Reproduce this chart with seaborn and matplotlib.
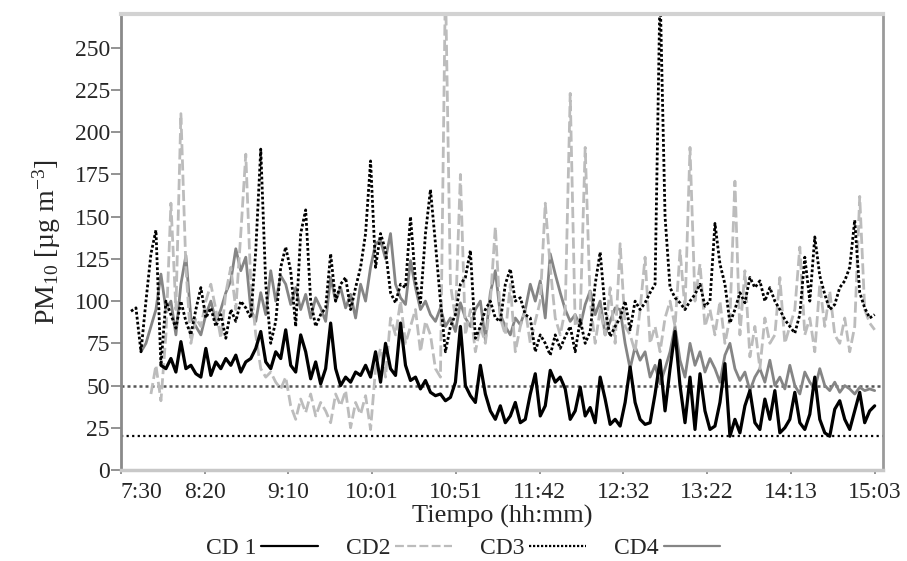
"""
PM10 por sitio (CD 1 - CD4) a lo largo de la jornada, 7:30 a 15:03.
Lineas de referencia en 50 y 20 ug/m3.
"""
import numpy as np
import pandas as pd
import seaborn as sns
import matplotlib.pyplot as plt
from matplotlib.lines import Line2D

sns.set_theme(style="white")
plt.rcParams["font.family"] = ["Liberation Serif", "DejaVu Serif"]
plt.rcParams["mathtext.fontset"] = "custom"
plt.rcParams["mathtext.rm"] = "Liberation Serif"
plt.rcParams["mathtext.it"] = "Liberation Serif:italic"


################################ datos (paso de 3 min)

STEP_MIN = 3

# minutos desde medianoche del primer punto de cada serie
start_cd1 = 7 * 60 + 54
start_cd2 = 7 * 60 + 48
start_cd3 = 7 * 60 + 36
start_cd4 = 7 * 60 + 42

cd1 = [
    62, 60, 66, 58,
    76, 60, 62, 57, 55, 72, 56, 64, 60, 66,
    62, 68, 58, 64, 66, 72, 82, 64, 60, 70,
    66, 83, 62, 58, 80, 70, 54, 64, 51, 60,
    87, 60, 50, 55, 52, 58, 56, 62, 55, 70,
    52, 75, 60, 56, 87, 62, 53, 55, 48, 53,
    46, 44, 45, 41, 43, 52, 85, 50, 44, 40,
    62, 45, 35, 30, 38, 28, 32, 40, 28, 30,
    45, 57, 32, 38, 59, 52, 55, 48, 30, 35,
    49, 32, 37, 28, 55, 42, 27, 30, 26, 40,
    61, 40, 30, 27, 28, 45, 65, 35, 60, 82,
    50, 28, 55, 24, 57, 35, 24, 26, 40, 63,
    20, 30, 22, 38, 47, 28, 24, 42, 30, 47,
    22, 25, 30, 46, 28, 24, 33, 55, 30, 22,
    20, 36, 41, 30, 24, 35, 46, 28, 35, 38,
]

cd2 = [
    45, 62, 41, 80, 158, 95,
    211, 120, 75, 90, 85, 100, 110, 95, 78, 105,
    120, 95, 140, 187, 110, 80, 60, 55, 58, 52,
    48, 55, 38, 30, 42, 34, 45, 32, 40, 35,
    28, 45, 38, 47, 25, 40, 33, 44, 24, 60,
    72, 55, 90, 80, 100, 75, 85, 95, 70, 88,
    80, 60, 55, 290, 110, 90, 175, 80, 95, 70,
    85, 75, 100, 144, 90, 80, 110, 70, 85, 95,
    75, 88, 100, 158, 120, 90, 80, 95, 223, 85,
    90, 191, 100, 75, 95, 80, 108, 75, 134, 85,
    80, 70, 95, 126, 75, 85, 70, 90, 100, 85,
    130, 95, 191, 100, 122, 85, 95, 80, 100, 75,
    90, 171, 80, 118, 67, 85, 60, 90, 75, 80,
    114, 75, 85, 95, 132, 80, 90, 70, 110, 85,
    106, 80, 75, 90, 70, 85, 162, 95, 87, 83,
]

cd3 = [
    94, 96, 70, 100, 128, 142, 62, 100, 92, 84,
    100, 88, 80, 95, 108, 90, 96, 85, 92, 78,
    95, 88, 100, 96, 90, 130, 190, 110, 75, 88,
    120, 132, 118, 85, 140, 154, 100, 85, 92, 96,
    128, 100, 110, 114, 95, 108, 120, 140, 183, 120,
    140, 130, 105, 99, 110, 108, 150, 112, 99, 140,
    166, 134, 100, 70, 85, 92, 110, 114, 130, 78,
    85, 95, 100, 90, 88, 110, 119, 100, 102, 92,
    90, 70, 80, 75, 68, 80, 72, 79, 85, 70,
    89, 75, 82, 110, 129, 95, 79, 85, 90, 100,
    83, 100, 95, 99, 105, 110, 285, 150, 108, 102,
    99, 95, 100, 104, 110, 97, 100, 146, 122, 110,
    87, 95, 105, 99, 114, 108, 112, 100, 108, 100,
    95, 89, 85, 81, 92, 126, 100, 138, 115, 104,
    95, 98, 108, 112, 120, 148, 105, 96, 90, 92,
]

cd4 = [
    70, 75, 85, 95, 116, 95, 100, 80,
    110, 127, 90, 85, 80, 92, 100, 88, 95, 105,
    112, 131, 118, 126, 95, 88, 105, 92, 118, 100,
    115, 110, 98, 108, 95, 104, 90, 102, 96, 88,
    114, 100, 108, 96, 104, 90, 110, 100, 120, 134,
    136, 125, 140, 110, 102, 98, 124, 108, 95, 100,
    92, 88, 96, 85, 90, 82, 99, 90, 85, 95,
    100, 77, 105, 118, 92, 85, 80, 90, 86, 95,
    110, 100, 112, 90, 128, 116, 105, 95, 88, 92,
    85, 98, 106, 92, 100, 80, 88, 96, 95, 75,
    60, 73, 65, 70, 55, 62, 51, 60, 70, 85,
    65, 55, 75, 62, 70, 58, 66, 60, 52, 68,
    75, 60, 53, 58, 47, 55, 60, 52, 65, 50,
    55, 48, 62, 50, 45, 58, 52, 48, 60, 50,
    47, 52, 46, 50, 48, 45, 49, 47, 48, 47,
]

TICK_LABELS = ["7:30", "8:20", "9:10", "10:01", "10:51",
               "11:42", "12:32", "13:22", "14:13", "15:03"]
REF_LINES = [50, 20]

SITES = ["CD 1", "CD2", "CD3", "CD4"]
DRAW_ORDER = ["CD4", "CD2", "CD3", "CD 1"]  # CD 1 queda encima

frames = []
for site, start, vals in zip(SITES,
                             [start_cd1, start_cd2, start_cd3, start_cd4],
                             [cd1, cd2, cd3, cd4]):
    frames.append(pd.DataFrame({
        "minuto": start + STEP_MIN * np.arange(len(vals)),
        "pm10": vals,
        "sitio": site,
    }))
df = pd.concat(frames, ignore_index=True)


################################ estilo

COLORS = {"CD 1": "black", "CD2": "#bcbcbc", "CD3": "black", "CD4": "#858585"}
DASHES = {"CD 1": "", "CD2": (4, 1.5), "CD3": (1, 0.8), "CD4": ""}
WIDTHS = {"CD 1": 2.3, "CD2": 2.0, "CD3": 2.0, "CD4": 2.0}

XMIN = 7 * 60 + 30
XTICKS = np.linspace(XMIN, 15 * 60 + 3, len(TICK_LABELS))
XMAX = XMIN + 458
YMAX = 270

TICK_FS = 17


################################ grafico

fig = plt.figure(figsize=(9.07, 5.61), dpi=100)
ax = fig.add_axes([121 / 907, 1 - 470 / 561, 762 / 907, 456 / 561])

# una llamada por sitio para poder dar un grosor distinto a cada linea
for site in DRAW_ORDER:
    sns.lineplot(ax=ax, data=df[df["sitio"] == site], x="minuto", y="pm10",
                 color=COLORS[site], dashes=False,
                 linewidth=WIDTHS[site], legend=False, estimator=None)
    if DASHES[site]:
        ax.lines[-1].set_dashes(DASHES[site])

ax.axhline(REF_LINES[0], color="#555555", linestyle=(0, (1.2, 1.2)), linewidth=1.8, zorder=0)
ax.axhline(REF_LINES[1], color="black", linestyle=(0, (1, 1.5)), linewidth=1.6, zorder=0)

ax.set_xlim(XMIN, XMAX)
ax.set_ylim(0, YMAX)
ax.set_xticks(XTICKS)
ax.set_xticklabels(TICK_LABELS)
ax.xaxis.get_ticklabels()[0].set_ha("left")
ax.set_yticks(np.arange(0, 251, 25))

ax.set_xlabel("Tiempo (hh:mm)", fontsize=19, labelpad=1)
ax.set_ylabel("PM$_{10}$ [µg m$^{-3}$]", fontsize=20, labelpad=8)

ax.tick_params(axis="y", left=True, direction="out", length=7, width=1.3,
               color="#8a8a8a", labelsize=TICK_FS, pad=1)
ax.tick_params(axis="x", bottom=True, direction="out", length=3, width=1.3,
               color="#8a8a8a", labelsize=TICK_FS, pad=6)

ax.spines["left"].set(color="#8a8a8a", linewidth=2)
ax.spines["right"].set(color="#9a9a9a", linewidth=2)
ax.spines["top"].set(color="#d2d2d2", linewidth=3)
ax.spines["bottom"].set(color="#c8c8c8", linewidth=2.5)

# leyenda abajo, texto antes de la linea
handles = [Line2D([], [], color=COLORS[s],
                  linestyle=(0, DASHES[s]) if DASHES[s] else "-",
                  linewidth=1.6) for s in SITES]
fig.legend(handles, SITES, loc="center", bbox_to_anchor=(463 / 907, 1 - 548 / 561),
           ncol=4, frameon=False, markerfirst=False, fontsize=17,
           handlelength=2.4, handletextpad=0.2, columnspacing=1.2)

fig.savefig("out.png", dpi=100)
plt.close(fig)
